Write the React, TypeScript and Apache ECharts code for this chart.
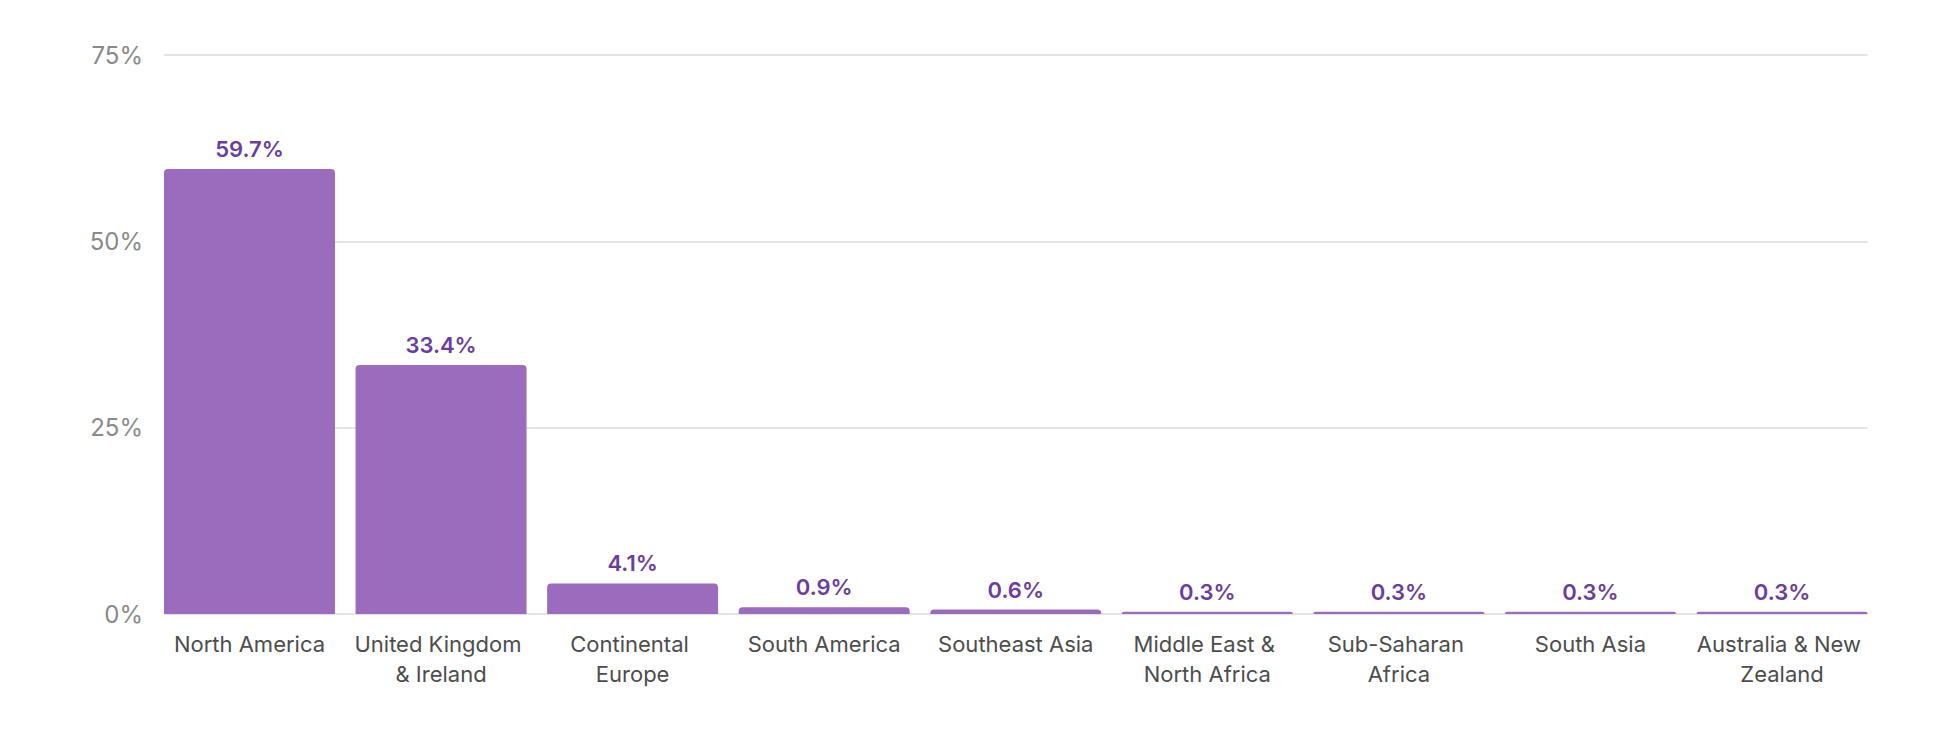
import React, { useEffect, useRef } from "react";
import * as echarts from "echarts";

const categories: string[] = [
  "North America",
  "United Kingdom & Ireland",
  "Continental Europe",
  "South America",
  "Southeast Asia",
  "Middle East & North Africa",
  "Sub-Saharan Africa",
  "South Asia",
  "Australia & New Zealand",
];
const shares: number[] = [59.7, 33.4, 4.1, 0.9, 0.6, 0.3, 0.3, 0.3, 0.3];
const yMin = 0;
const yMax = 75;
const yStep = 25;

const FONT = "Inter, 'Noto Sans', Roboto, sans-serif";

export default function App() {
  const ref = useRef<HTMLDivElement>(null);
  useEffect(() => {
    if (!ref.current) return;
    const chart = echarts.init(ref.current, undefined, { renderer: "svg" });
    const plotLeft = 164;
    const plotRight = 92.5;
    const half = 10.3;
    chart.setOption({
      animation: false,
      backgroundColor: "#ffffff",
      textStyle: { fontFamily: FONT },
      grid: [
        { left: plotLeft, right: plotRight, top: 55, bottom: 140, containLabel: false },
        { left: plotLeft - half, right: plotRight - half, top: 55, bottom: 140, containLabel: false },
      ],
      xAxis: [
        { gridIndex: 0, type: "value", min: 0, max: 1, show: false },
        {
          gridIndex: 1,
          type: "category",
          data: categories,
          axisLine: { show: false },
          axisTick: { show: false },
          axisLabel: {
            color: "#4d4d4d",
            fontSize: 22,
            fontFamily: FONT,
            margin: 15,
            lineHeight: 30,
            interval: 0,
            width: 178,
            overflow: "break",
          },
        },
      ],
      yAxis: [
        {
          gridIndex: 0,
          type: "value",
          min: yMin,
          max: yMax,
          interval: yStep,
          axisLine: { show: false },
          axisTick: { show: false },
          axisLabel: {
            formatter: "{value}%",
            color: "#8a8a8a",
            fontSize: 24,
            fontFamily: FONT,
            margin: 21,
          },
          splitLine: { lineStyle: { color: "#e4e4e4", width: 2 } },
        },
        { gridIndex: 1, type: "value", min: yMin, max: yMax, show: false },
      ],
      series: [
        {
          type: "bar",
          xAxisIndex: 1,
          yAxisIndex: 1,
          data: shares,
          barCategoryGap: "10.75%",
          itemStyle: { color: "#9b6bbd", borderRadius: [4, 4, 0, 0] },
          label: {
            show: true,
            position: "top",
            distance: 9,
            color: "#6a3d9f",
            fontSize: 22,
            fontWeight: 600,
            fontFamily: FONT,
            formatter: (p: any) => Number(p.value).toFixed(1) + "%",
          },
        },
      ],
    });
    return () => chart.dispose();
  }, []);
  return (
    <div
      ref={ref}
      style={{ position: "fixed", left: 0, top: 0, width: 1960, height: 754, background: "#fff" }}
    />
  );
}
